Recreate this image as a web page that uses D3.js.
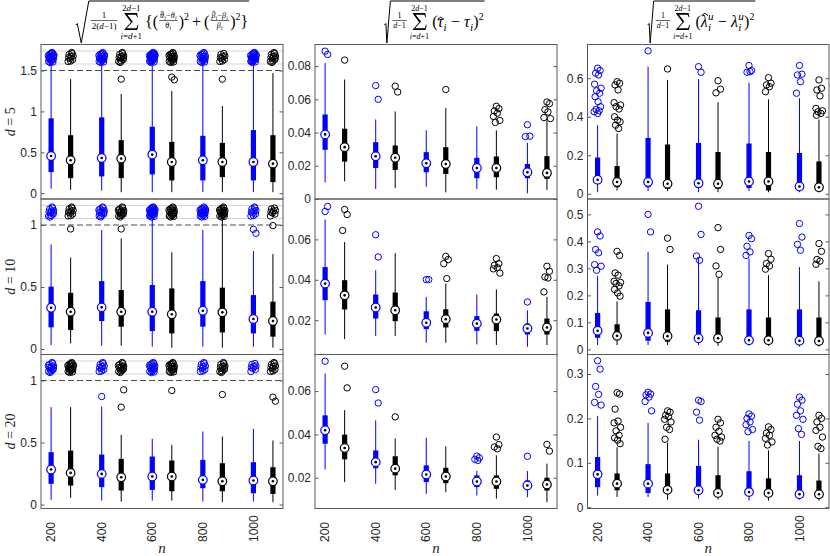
<!DOCTYPE html>
<html>
<head>
<meta charset="utf-8">
<script src="https://cdn.jsdelivr.net/npm/d3@7"></script>
<style>
  body { margin: 0; background: #fff; }
  svg { display: block; font-family: "Liberation Sans", Arial, sans-serif; }
</style>
</head>
<body>
<script>
// ---- data ----
var nValues = [200, 400, 600, 800, 1000];
var dValues = [5, 10, 20];

// every box: [lower whisker, q1, median, q3, upper whisker]
// column 1: theta / beta relative error. An upper whisker above the cut runs into the compressed band.
var thetaBetaCut = [1.5, 1, 1];
var thetaBetaD5Blue = [[0.054,0.258,0.455,0.915,1.6],[0.033,0.205,0.43,0.927,1.6],[0.012,0.23,0.472,0.812,1.6],[0.012,0.156,0.402,0.701,1.6],[0.012,0.156,0.381,0.771,1.6]];
var thetaBetaD5Black = [[0.042,0.184,0.402,0.709,1.394],[0.012,0.184,0.423,0.648,1.214],[0.012,0.156,0.381,0.627,1.25],[0.012,0.197,0.381,0.615,1.066],[0.012,0.135,0.361,0.709,1.468]];
var thetaBetaD5BlueOut = [[],[],[],[],[]];
var thetaBetaD5BlackOut = [[],[1.394],[1.419,1.386],[1.394],[]];
var thetaBetaD5BlueExt = [20,18,24,16,22];
var thetaBetaD5BlackExt = [10,12,16,9,12];

var thetaBetaD10Blue = [[0.032,0.175,0.333,0.503,0.844],[0.027,0.226,0.336,0.548,0.96],[0.019,0.145,0.301,0.516,1.1],[0.019,0.18,0.309,0.548,0.96],[0.019,0.126,0.242,0.435,0.79]];
var thetaBetaD10Black = [[0.046,0.153,0.301,0.454,0.737],[0.027,0.18,0.301,0.476,0.892],[0.011,0.126,0.28,0.489,0.78],[0.011,0.134,0.296,0.495,1.1],[0.011,0.1,0.226,0.382,0.766]];
var thetaBetaD10BlueOut = [[],[],[],[],[0.965,0.933]];
var thetaBetaD10BlackOut = [[0.968],[0.968],[],[],[0.995]];
var thetaBetaD10BlueExt = [12,13,22,18,10];
var thetaBetaD10BlackExt = [10,14,16,16,8];

var thetaBetaD20Blue = [[0.038,0.167,0.282,0.422,0.785],[0.032,0.14,0.247,0.403,0.79],[0.032,0.118,0.226,0.387,0.53],[0.024,0.132,0.199,0.36,0.589],[0.024,0.091,0.194,0.341,0.61]];
var thetaBetaD20Black = [[0.054,0.153,0.255,0.435,0.785],[0.024,0.113,0.22,0.368,0.562],[0.032,0.107,0.226,0.355,0.481],[0.019,0.107,0.188,0.333,0.548],[0.019,0.086,0.188,0.301,0.516]];
var thetaBetaD20BlueOut = [[],[0.871],[],[],[]];
var thetaBetaD20BlackOut = [[],[0.785,0.925],[0.919],[0.887],[0.866,0.833]];
var thetaBetaD20BlueExt = [14,10,16,10,8];
var thetaBetaD20BlackExt = [18,14,16,12,10];

// column 2: tau
var tauD5Blue = [[0.0100,0.0296,0.0389,0.0509,0.0819],[0.006,0.0187,0.0257,0.0342,0.0479],[0.0074,0.0161,0.0215,0.0282,0.0413],[0.006,0.0125,0.0187,0.0248,0.0437],[0.0034,0.0125,0.0161,0.0211,0.0338]];
var tauD5Black = [[0.0106,0.0225,0.0312,0.0423,0.0719],[0.0066,0.0175,0.0248,0.0322,0.0527],[0.004,0.0151,0.0211,0.0312,0.0547],[0.0056,0.0131,0.0187,0.0256,0.0413],[0.0054,0.0121,0.0157,0.0258,0.0473]];
var tauD5BlueOut = [[0.089,0.087],[0.0683,0.06],[],[],[0.0447,0.0378,0.0376]];
var tauD5BlackOut = [[0.0836],[0.0679,0.0644],[0.0659],[0.0558,0.0544,0.053,0.0517,0.0497,0.0473,0.0461],[0.0584,0.0574,0.0538,0.0524,0.049,0.0484]];

var tauD10Blue = [[0.0129,0.0299,0.0381,0.0463,0.0699],[0.0122,0.0208,0.0263,0.0327,0.0447],[0.0088,0.0156,0.0187,0.0244,0.0315],[0.008,0.0147,0.0183,0.022,0.0327],[0.0068,0.0129,0.0159,0.0183,0.0249]];
var tauD10Black = [[0.0106,0.0253,0.0323,0.0398,0.0587],[0.0122,0.0195,0.0249,0.0337,0.0532],[0.0088,0.0164,0.0205,0.0254,0.0381],[0.0077,0.0146,0.0203,0.0233,0.0353],[0.0077,0.0129,0.0164,0.0208,0.0315]];
var tauD10BlueOut = [[0.0738,0.0763],[0.0623,0.0513],[0.0401,0.0401],[],[0.029]];
var tauD10BlackOut = [[0.0748,0.0723,0.0644],[],[0.0516,0.05,0.048,0.0406],[0.0505,0.048,0.0472,0.046,0.0454,0.0433],[0.0467,0.0442,0.0414,0.0409,0.034]];

var tauD20Blue = [[0.0238,0.0357,0.0419,0.0488,0.0681],[0.0172,0.0244,0.0272,0.0326,0.0465],[0.0126,0.018,0.0215,0.0257,0.0385],[0.0118,0.0157,0.0183,0.0211,0.0231],[0.011,0.0149,0.0164,0.0188,0.0231]];
var tauD20Black = [[0.018,0.0285,0.0337,0.0399,0.0512],[0.0144,0.0211,0.0242,0.0299,0.0381],[0.0133,0.0175,0.0206,0.0246,0.0345],[0.0103,0.0149,0.0183,0.0211,0.0303],[0.0087,0.0141,0.0169,0.02,0.0265]];
var tauD20BlueOut = [[0.0738],[0.0607,0.0545],[],[0.03,0.0292,0.0285,0.028],[0.0299]];
var tauD20BlackOut = [[0.0715,0.0615],[0.0481],[],[0.0388,0.0353,0.0342,0.0334],[0.0354,0.0323]];

// column 3: lambda
var lambdaD5Blue = [[0.008,0.061,0.073,0.188,0.356],[0.014,0.034,0.061,0.29,0.66],[0.008,0.03,0.055,0.264,0.595],[0.014,0.03,0.064,0.261,0.577],[0.008,0.025,0.038,0.212,0.496]];
var lambdaD5Black = [[0.017,0.034,0.061,0.144,0.313],[0.014,0.026,0.052,0.256,0.591],[0.008,0.026,0.052,0.217,0.475],[0.008,0.017,0.064,0.217,0.49],[0.008,0.022,0.034,0.168,0.386]];
var lambdaD5BlueOut = [[0.652,0.64,0.626,0.617,0.569,0.548,0.535,0.522,0.504,0.478,0.452,0.438,0.431,0.426,0.417],[0.742],[0.66,0.631],[0.666,0.64,0.631,0.634],[0.666,0.621,0.617,0.582,0.522]];
var lambdaD5BlackOut = [[0.582,0.574,0.565,0.539,0.473,0.461,0.452,0.44,0.4,0.382,0.374,0.356,0.339],[0.648],[0.587,0.543,0.524],[0.603,0.574,0.565,0.556,0.53],[0.591,0.548,0.539,0.508,0.443,0.431,0.426,0.417,0.408]];

var lambdaD10Blue = [[0.016,0.043,0.069,0.135,0.271],[0.016,0.032,0.061,0.176,0.361],[0.016,0.028,0.041,0.145,0.334],[0.013,0.028,0.034,0.148,0.336],[0.01,0.026,0.032,0.148,0.305]];
var lambdaD10Black = [[0.016,0.034,0.05,0.093,0.178],[0.016,0.028,0.049,0.148,0.314],[0.013,0.028,0.041,0.118,0.265],[0.013,0.028,0.034,0.118,0.275],[0.01,0.026,0.031,0.118,0.252]];
var lambdaD10BlueOut = [[0.435,0.42,0.37,0.358,0.314,0.308,0.293],[0.5,0.435],[0.53,0.426,0.346,0.33],[0.422,0.41,0.382,0.361,0.348],[0.466,0.416,0.389,0.367]];
var lambdaD10BlackOut = [[0.363,0.348,0.283,0.275,0.252,0.248,0.244,0.235,0.222,0.209,0.197],[0.412,0.37],[0.451,0.37,0.309,0.278],[0.355,0.334,0.318,0.309,0.297],[0.392,0.363,0.333,0.327,0.315]];

var lambdaD20Blue = [[0.026,0.045,0.074,0.113,0.205],[0.023,0.032,0.053,0.097,0.19],[0.019,0.032,0.038,0.093,0.152],[0.015,0.028,0.034,0.081,0.149],[0.017,0.025,0.029,0.072,0.149]];
var lambdaD20Black = [[0.023,0.038,0.053,0.076,0.135],[0.017,0.034,0.039,0.076,0.145],[0.017,0.028,0.032,0.072,0.136],[0.015,0.028,0.032,0.065,0.128],[0.015,0.025,0.029,0.06,0.121]];
var lambdaD20BlueOut = [[0.33,0.311,0.272,0.254,0.236,0.23],[0.259,0.255,0.253,0.248,0.238,0.217],[0.241,0.238,0.214,0.196],[0.21,0.205,0.2,0.192,0.186,0.175,0.17],[0.248,0.241,0.232,0.217,0.207,0.198,0.177,0.164]];
var lambdaD20BlackOut = [[0.258,0.255,0.221,0.194,0.19,0.18,0.172,0.162,0.156,0.151,0.143],[0.217,0.214,0.207,0.204,0.198,0.192,0.18,0.175,0.153],[0.198,0.19,0.18,0.171,0.162,0.158,0.153,0.149],[0.181,0.175,0.167,0.162,0.155,0.147,0.14],[0.207,0.2,0.192,0.18,0.173,0.158,0.137,0.132]];

// tick labels
var yTicksThetaBeta = [[0, 0.5, 1, 1.5], [0, 0.5, 1], [0, 0.5, 1]];
var yTicksTau = [[0, 0.02, 0.04, 0.06, 0.08], [0.02, 0.04, 0.06], [0.02, 0.04, 0.06]];
var yTicksLambda = [[0, 0.2, 0.4, 0.6], [0, 0.1, 0.2, 0.3, 0.4, 0.5], [0, 0.1, 0.2, 0.3]];

// hand-placed jitter of the points in the compressed band: [dx px, fraction of band]
var bandJitter = [[-1.5,0.2],[2.0,0.7],[0.5,0.4],[-2.5,0.9],[1.5,0.1],[-0.5,0.6],[2.5,0.35],[-2.0,0.5],[0.0,0.85],[1.0,0.0],[-1.0,1.0],[2.2,0.55],[-2.8,0.3],[0.8,0.75],[-0.3,0.15],[1.8,0.95],[-1.8,0.65],[2.8,0.25],[-0.8,0.45],[0.3,0.05],[-2.3,0.8],[1.3,0.5],[-1.2,0.3],[2.0,0.1],[-0.2,0.7],[1.0,0.9]];
// hand-placed horizontal jitter of ordinary outliers (px)
var outJitter = [0, 2.5, -2, 1, -3, 3.5, -1, 2, -2.5, 0.5, 3, -1.5, 1.5, -3.5, 0];

// ---- layout ----
var W = 830, H = 556;
var colX = [[41, 283], [315, 557], [587.5, 829]];
var rowY = [[44.5, 199], [199, 354.5], [354.5, 508.5]];
var bandH = 26;
var col1Min = [-0.071, -0.044, -0.032];
var yDomains = [null,
  [[0, 0.093], [0.003, 0.08], [0.0058, 0.0769]],
  [[-0.027, 0.775], [-0.019, 0.557], [-0.003, 0.344]]];
var seriesColor = ["#0000ff", "#000000"];
var blackOffset = 0.386;

var svg = d3.select("body").append("svg").attr("width", W).attr("height", H);

var boxSets = [
  [[thetaBetaD5Blue, thetaBetaD5Black], [tauD5Blue, tauD5Black], [lambdaD5Blue, lambdaD5Black]],
  [[thetaBetaD10Blue, thetaBetaD10Black], [tauD10Blue, tauD10Black], [lambdaD10Blue, lambdaD10Black]],
  [[thetaBetaD20Blue, thetaBetaD20Black], [tauD20Blue, tauD20Black], [lambdaD20Blue, lambdaD20Black]]
];
var outSets = [
  [[thetaBetaD5BlueOut, thetaBetaD5BlackOut], [tauD5BlueOut, tauD5BlackOut], [lambdaD5BlueOut, lambdaD5BlackOut]],
  [[thetaBetaD10BlueOut, thetaBetaD10BlackOut], [tauD10BlueOut, tauD10BlackOut], [lambdaD10BlueOut, lambdaD10BlackOut]],
  [[thetaBetaD20BlueOut, thetaBetaD20BlackOut], [tauD20BlueOut, tauD20BlackOut], [lambdaD20BlueOut, lambdaD20BlackOut]]
];
var extSets = [
  [thetaBetaD5BlueExt, thetaBetaD5BlackExt],
  [thetaBetaD10BlueExt, thetaBetaD10BlackExt],
  [thetaBetaD20BlueExt, thetaBetaD20BlackExt]
];
var tickSets = [yTicksThetaBeta, yTicksTau, yTicksLambda];

function drawPanel(c, r) {
  var x0 = colX[c][0], x1 = colX[c][1], y0 = rowY[r][0], y1 = rowY[r][1];
  var g = svg.append("g");
  var x = d3.scaleLinear().domain([0.8, 5.585]).range([x0, x1]);
  var compressed = c === 0;
  var cut = thetaBetaCut[r];
  var y = compressed
    ? d3.scaleLinear().domain([col1Min[r], cut]).range([y1, y0 + bandH])
    : d3.scaleLinear().domain(yDomains[c][r]).range([y1, y0]);
  var yv = function(v) { return (compressed && v > cut) ? y0 + 13 : y(v); };

  if (compressed) {
    [0.25, 0.75].forEach(function(f) {
      g.append("line").attr("x1", x0).attr("x2", x1)
        .attr("y1", y0 + bandH * f).attr("y2", y0 + bandH * f)
        .attr("stroke", "#d4d4d4").attr("stroke-width", 1);
    });
    g.append("line").attr("x1", x0).attr("x2", x1)
      .attr("y1", y(cut)).attr("y2", y(cut))
      .attr("stroke", "#4d4d4d").attr("stroke-width", 1).attr("stroke-dasharray", "6,3");
  }

  [0, 1].forEach(function(s) {
    var stats = boxSets[r][c][s];
    var outs = outSets[r][c][s];
    var col = seriesColor[s];
    var pos = function(i) { return x(i + 1 + s * blackOffset); };
    var sg = g.append("g");

    sg.selectAll("line.wh").data(stats).enter().append("line")
      .attr("x1", function(d, i) { return pos(i); })
      .attr("x2", function(d, i) { return pos(i); })
      .attr("y1", function(d) { return yv(d[0]); })
      .attr("y2", function(d) { return yv(d[4]); })
      .attr("stroke", col).attr("stroke-width", 1);

    sg.selectAll("rect").data(stats).enter().append("rect")
      .attr("x", function(d, i) { return pos(i) - 2.6; })
      .attr("width", 5.2)
      .attr("y", function(d) { return y(d[3]); })
      .attr("height", function(d) { return y(d[1]) - y(d[3]); })
      .attr("fill", col);

    // ordinary outliers
    outs.forEach(function(list, i) {
      sg.selectAll(null).data(list).enter().append("circle")
        .attr("cx", function(v, k) { return pos(i) + outJitter[k % outJitter.length]; })
        .attr("cy", function(v) { return y(v); })
        .attr("r", 3.2).attr("fill", "none").attr("stroke", col).attr("stroke-width", 1);
    });

    // compressed outliers above the cut
    if (compressed) {
      extSets[r][s].forEach(function(cnt, i) {
        sg.selectAll(null).data(bandJitter.slice(0, cnt)).enter().append("circle")
          .attr("cx", function(j) { return pos(i) + j[0]; })
          .attr("cy", function(j) { return y0 + 8 + j[1] * 10; })
          .attr("r", 3.2).attr("fill", "none").attr("stroke", col).attr("stroke-width", 1);
      });
    }

    // medians
    sg.selectAll("circle.med").data(stats).enter().append("circle")
      .attr("cx", function(d, i) { return pos(i); })
      .attr("cy", function(d) { return y(d[2]); })
      .attr("r", 4.3).attr("fill", "#fff").attr("stroke", col).attr("stroke-width", 1.2);
    sg.selectAll("circle.dot").data(stats).enter().append("circle")
      .attr("cx", function(d, i) { return pos(i); })
      .attr("cy", function(d) { return y(d[2]); })
      .attr("r", 1.3).attr("fill", "#000");
  });

  // axes
  var ticks = tickSets[c][r];
  var left = g.append("g").attr("transform", "translate(" + x0 + ",0)")
    .call(d3.axisLeft(y).tickValues(ticks).tickSizeInner(-3.5).tickSizeOuter(0).tickPadding(4).tickFormat(function(d) { return String(d); }));
  var right = g.append("g").attr("transform", "translate(" + x1 + ",0)")
    .call(d3.axisRight(y).tickValues(ticks).tickSizeInner(-3.5).tickSizeOuter(0).tickFormat(""));
  [left, right].forEach(function(a) {
    a.select(".domain").remove();
    a.selectAll("line").attr("stroke", "#5a5a5a");
    a.selectAll("text").attr("font-size", 12).attr("fill", "#262626")
      .attr("font-family", "'Liberation Sans', Arial, sans-serif");
  });
  right.selectAll("text").remove();

  g.append("rect").attr("x", x0).attr("y", y0).attr("width", x1 - x0).attr("height", y1 - y0)
    .attr("fill", "none").attr("stroke", "#5a5a5a").attr("stroke-width", 1);

  if (r === 2) {
    g.selectAll("text.xt").data(nValues).enter().append("text")
      .attr("transform", function(d, i) { return "translate(" + x(i + 1) + ",542) rotate(-90)"; })
      .attr("dy", "0.35em").attr("text-anchor", "start")
      .attr("font-size", 12).attr("fill", "#262626").text(function(d) { return d; });
    g.append("text").attr("x", (x0 + x1) / 2).attr("y", 553)
      .attr("text-anchor", "middle").attr("font-family", "'Liberation Serif', serif")
      .attr("font-style", "italic").attr("font-size", 15).attr("fill", "#262626").text("n");
  }
  if (c === 0) {
    var lab = g.append("text")
      .attr("transform", "translate(15," + (y0 + y1) / 2 + ") rotate(-90)")
      .attr("text-anchor", "middle").attr("font-family", "'Liberation Serif', serif")
      .attr("font-size", 14).attr("fill", "#262626");
    lab.append("tspan").attr("font-style", "italic").text("d");
    lab.append("tspan").text(" = " + dValues[r]);
  }
}

for (var r = 0; r < 3; r++) for (var c = 0; c < 3; c++) drawPanel(c, r);

// ---- math titles: a tiny left-to-right layout ----
// mt: one text element; "*" = italic part, "^" = superscript part
function mt(parts, size) {
  return function(g, x, y) {
    var t = g.append("text").attr("x", x).attr("y", y).attr("font-size", size);
    parts.forEach(function(p) {
      var s = t.append("tspan").attr("y", y);
      if (p[0] === "*") { s.attr("font-style", "italic").text(p.slice(1)); }
      else if (p[0] === "^") { s.attr("font-size", size * 0.62).attr("y", y - size * 0.45).text(p.slice(1)); }
      else { s.text(p); }
    });
    return t.node().getComputedTextLength();
  };
}
function gap(w) { return function() { return w; }; }
function seq(items) {
  return function(g, x, y) {
    var cx = x;
    items.forEach(function(f) { cx += f(g, cx, y); });
    return cx - x;
  };
}
// italic symbol with optional hat, subscript and superscript (stacked)
function sym(ch, size, sub, sup, hat) {
  return function(g, x, y) {
    var t = g.append("text").attr("x", x).attr("y", y).attr("font-size", size).attr("font-style", "italic");
    t.append("tspan").text(ch);
    var w = t.node().getComputedTextLength();
    if (hat) {
      var hx = x + w * 0.58, hy = y - size * (hat === "low" ? 0.62 : 0.86);
      g.append("path").attr("d", "M" + (hx - size * 0.2) + "," + (hy + size * 0.14) + "L" + hx + "," + hy + "L" + (hx + size * 0.2) + "," + (hy + size * 0.14))
        .attr("fill", "none").attr("stroke", "#000").attr("stroke-width", Math.max(0.5, size * 0.06));
    }
    var w2 = 0;
    if (sub) {
      var ts = t.append("tspan").attr("x", x + w + 0.3).attr("y", y + size * 0.24).attr("font-size", size * 0.7).text(sub);
      w2 = ts.node().getComputedTextLength();
    }
    if (sup) {
      var tp = t.append("tspan").attr("x", x + w + 0.3).attr("y", y - size * 0.42).attr("font-size", size * 0.7).text(sup);
      w2 = Math.max(w2, tp.node().getComputedTextLength());
    }
    return w + w2 + 0.6;
  };
}
function frac(num, den, size) {
  return function(g, x, y) {
    var gn = g.append("g"), gd = g.append("g");
    var wn = num(gn, 0, 0), wd = den(gd, 0, 0);
    var w = Math.max(wn, wd) + 2;
    var axis = y - 6.5;
    gn.attr("transform", "translate(" + (x + 1 + (w - wn) / 2) + "," + (axis - 2.6) + ")");
    gd.attr("transform", "translate(" + (x + 1 + (w - wd) / 2) + "," + (axis + 2 + size * 0.7) + ")");
    g.append("line").attr("x1", x + 1).attr("x2", x + 1 + w).attr("y1", axis).attr("y2", axis)
      .attr("stroke", "#000").attr("stroke-width", 0.6);
    return w + 2;
  };
}
// summation sign drawn as a glyph outline so that its limits sit clear of it
function sumOp(up, low) {
  return function(g, x, y) {
    var gu = g.append("g"), gl = g.append("g");
    var ws = 14.5;
    var wu = up(gu, 0, 0), wl = low(gl, 0, 0);
    var w = Math.max(ws, wu, wl);
    var sx = x + (w - ws) / 2, sy = y - 14;
    var pts = [[0.5,0],[13,0],[13.9,4.2],[13.2,4.2],[12,1.7],[3.4,1.7],[8.8,8.6],[2.8,15.2],[12.4,15.2],[13.9,11.8],[14.5,11.8],[13.3,17],[0.5,17],[0.5,16.5],[6.9,9.3],[0.5,0.5]];
    g.append("path").attr("d", "M" + pts.map(function(p) { return (sx + p[0]) + "," + (sy + p[1]); }).join("L") + "Z")
      .attr("fill", "#000");
    gu.attr("transform", "translate(" + (x + (w - wu) / 2) + "," + (y - 16) + ")");
    gl.attr("transform", "translate(" + (x + (w - wl) / 2) + "," + (y + 11.5) + ")");
    return w;
  };
}
function root(content, rw) {
  return function(g, x, y) {
    var w = content(g, x + rw + 1, y);
    g.append("path")
      .attr("d", "M" + x + "," + (y - 2) + "L" + (x + 1.5) + "," + (y - 3.5) + "L" + (x + rw * 0.42) + ",43L" + (x + rw) + ",1L" + (x + rw + w + 2) + ",1")
      .attr("fill", "none").attr("stroke", "#000").attr("stroke-width", 1);
    return rw + w + 3;
  };
}
function limitsSum(sz) {
  return sumOp(mt(["2", "*d", "\u22121"], sz), mt(["*i", "=", "*d", "+1"], sz));
}

var titles = [
  root(seq([
    frac(mt(["1"], 9), mt(["2(", "*d", "\u22121)"], 9), 9), gap(2),
    limitsSum(9), gap(3),
    mt(["{("], 16),
    frac(seq([sym("\u03B8", 8, "i", null, true), mt(["\u2212"], 8), sym("\u03B8", 8, "i")]), sym("\u03B8", 8, "i"), 8),
    mt([")", "^2"], 16), gap(3), mt(["+"], 16), gap(3),
    mt(["("], 16),
    frac(seq([sym("\u03B2", 8, "i", null, true), mt(["\u2212"], 8), sym("\u03B2", 8, "i")]), sym("\u03B2", 8, "i"), 8),
    mt([")", "^2", "}"], 16)
  ]), 13),
  root(seq([
    frac(mt(["1"], 8), mt(["*d", "\u22121"], 8), 8), gap(2),
    limitsSum(8), gap(3),
    mt(["("], 16), sym("\u03C4", 16, "i", null, "low"), gap(4), mt(["\u2212"], 16), gap(4), sym("\u03C4", 16, "i"),
    mt([")", "^2"], 16)
  ]), 6),
  root(seq([
    frac(mt(["1"], 8), mt(["*d", "\u22121"], 8), 8), gap(2),
    limitsSum(8), gap(3),
    mt(["("], 16), sym("\u03BB", 16, "i", "u", true), gap(4), mt(["\u2212"], 16), gap(4), sym("\u03BB", 16, "i", "u"),
    mt([")", "^2"], 16)
  ]), 6)
];
var titleCenters = [163, 435, 702];
titles.forEach(function(t, i) {
  var g = svg.append("g").attr("font-family", "'Liberation Serif', 'DejaVu Serif', serif").attr("fill", "#000");
  var w = t(g, 0, 27);
  g.attr("transform", "translate(" + (titleCenters[i] - w / 2) + ",0)");
});
</script>
</body>
</html>
